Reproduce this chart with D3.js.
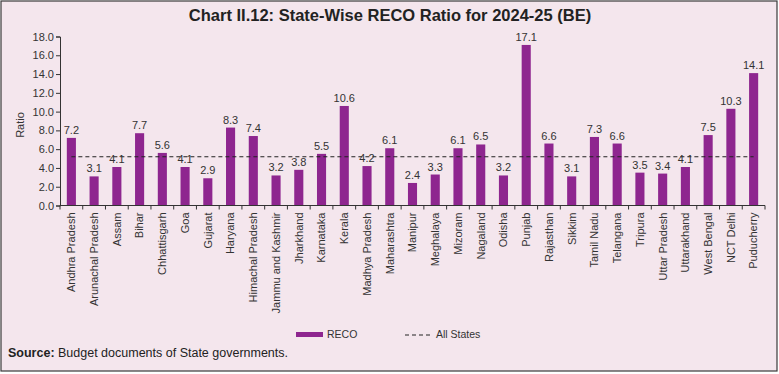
<!DOCTYPE html>
<html><head><meta charset="utf-8">
<script src="https://cdn.jsdelivr.net/npm/d3@7"></script>
<style>body{margin:0;background:#fff;} svg{display:block;font-family:"Liberation Sans",Arial,sans-serif;}</style>
</head><body>
<script>
const states = ["Andhra Pradesh","Arunachal Pradesh","Assam","Bihar","Chhattisgarh","Goa","Gujarat","Haryana","Himachal Pradesh","Jammu and Kashmir","Jharkhand","Karnataka","Kerala","Madhya Pradesh","Maharashtra","Manipur","Meghalaya","Mizoram","Nagaland","Odisha","Punjab","Rajasthan","Sikkim","Tamil Nadu","Telangana","Tripura","Uttar Pradesh","Uttarakhand","West Bengal","NCT Delhi","Puducherry"];
const reco = [7.2,3.1,4.1,7.7,5.6,4.1,2.9,8.3,7.4,3.2,3.8,5.5,10.6,4.2,6.1,2.4,3.3,6.1,6.5,3.2,17.1,6.6,3.1,7.3,6.6,3.5,3.4,4.1,7.5,10.3,14.1];
const allStates = 5.2;
const yTicks = [0,2,4,6,8,10,12,14,16,18];

const W=779,H=374;
const svg=d3.select("body").append("svg").attr("width",W).attr("height",H);
svg.append("rect").attr("x",1).attr("y",1).attr("width",776).attr("height",370)
  .attr("fill","#f4e6ed").attr("stroke","#3a3a3a").attr("stroke-width",1.2);
svg.append("text").attr("x",390).attr("y",21).attr("text-anchor","middle")
  .attr("font-size",16.5).attr("font-weight","bold").attr("fill","#222")
  .text("Chart II.12: State-Wise RECO Ratio for 2024-25 (BE)");

const x=d3.scaleBand().domain(states).range([60,765]).paddingInner(0.6).paddingOuter(0.3);
const y=d3.scaleLinear().domain([0,18]).range([205.5,36.5]);
const g=svg.append("g");

// bars
g.selectAll("rect.bar").data(states).join("rect").attr("class","bar")
  .attr("x",d=>x(d)).attr("width",x.bandwidth())
  .attr("y",(d,i)=>y(reco[i])).attr("height",(d,i)=>y(0)-y(reco[i]))
  .attr("fill","#8e268f");

// dashed line
const xc=d=>x(d)+x.bandwidth()/2;
g.append("line").attr("x1",xc(states[0])).attr("x2",xc(states[states.length-1]))
  .attr("y1",y(allStates)).attr("y2",y(allStates))
  .attr("stroke","#222").attr("stroke-width",1.1).attr("stroke-dasharray","4,3");

// labels
g.selectAll("text.val").data(states).join("text").attr("class","val")
  .attr("x",d=>xc(d)).attr("y",(d,i)=>y(reco[i])-4)
  .attr("text-anchor","middle").attr("font-size",11).attr("fill","#333")
  .text((d,i)=>reco[i].toFixed(1));

// y axis
const ya=svg.append("g").attr("transform","translate(60,0)")
  .call(d3.axisLeft(y).tickValues(yTicks).tickFormat(d3.format(".1f")).tickSize(4).tickPadding(2));
ya.selectAll("text").attr("font-size",11).attr("fill","#333").attr("font-family","Liberation Sans, Arial, sans-serif");
ya.selectAll("line,path").attr("stroke","#333");

// x axis
const xa=svg.append("g").attr("transform",`translate(0,${y(0)})`)
  .call(d3.axisBottom(x).tickSize(0).tickPadding(0));
xa.select("path").attr("stroke","#333").attr("d","M60,0H765");
xa.selectAll("text").attr("font-size",11).attr("fill","#333").attr("font-family","Liberation Sans, Arial, sans-serif")
  .attr("transform","rotate(-90)").attr("text-anchor","end").attr("dy","0.35em").attr("x",-7).attr("y",0);
// ticks between categories
const bounds=states.map(d=>x(d)-x.step()*x.paddingInner()/2).concat([765]);
xa.selectAll("line.sep").data(bounds).join("line").attr("class","sep")
  .attr("x1",d=>d).attr("x2",d=>d).attr("y1",0).attr("y2",4).attr("stroke","#333");

svg.append("text").attr("transform","translate(24,125) rotate(-90)").attr("text-anchor","middle")
  .attr("font-size",11).attr("fill","#333").text("Ratio");

// legend
svg.append("rect").attr("x",296).attr("y",332).attr("width",27).attr("height",5).attr("fill","#8e268f");
svg.append("text").attr("x",327).attr("y",338).attr("font-size",10.5).attr("fill","#333").text("RECO");
svg.append("line").attr("x1",405).attr("x2",432).attr("y1",335).attr("y2",335)
  .attr("stroke","#222").attr("stroke-dasharray","4,3");
svg.append("text").attr("x",436).attr("y",338).attr("font-size",10.5).attr("fill","#333").text("All States");

// source
const s=svg.append("text").attr("x",8).attr("y",357).attr("font-size",12.5).attr("fill","#222");
s.append("tspan").attr("font-weight","bold").text("Source:");
s.append("tspan").text(" Budget documents of State governments.");
</script>
</body></html>
